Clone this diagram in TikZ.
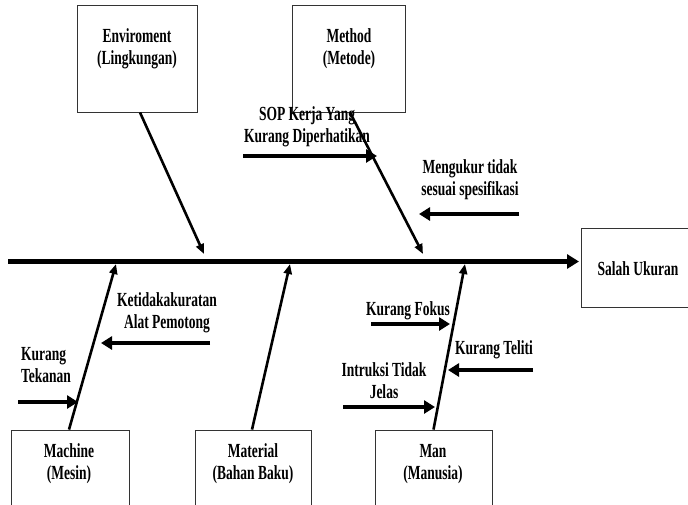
\documentclass[tikz,border=0pt]{standalone}
\usepackage{fontspec}
\setmainfont{Liberation Serif}[FakeStretch=0.675]
\usetikzlibrary{arrows.meta}
\begin{document}
\begin{tikzpicture}[x=1pt,y=-1pt,
  box/.style={draw=black!80,line width=0.9pt,fill=white,inner sep=0pt},
  lbl/.style={font=\fontsize{20}{22}\selectfont\bfseries,align=center,inner sep=0pt},
  bone/.style={line width=2.6pt,-{Triangle[length=10pt,width=8pt]}},
  cause/.style={line width=4.5pt,-{Triangle[length=11pt,width=13pt]}},
  spine/.style={line width=4.8pt,-{Triangle[length=12pt,width=14pt]}}]
\useasboundingbox (0,0) rectangle (688,504);
\clip (0,0) rectangle (688,504);

% category boxes
\node[box,minimum width=120pt,minimum height=107pt] (env) at (137,58.5) {};
\node[box,minimum width=113pt,minimum height=107pt] (met) at (348.5,58.5) {};
\node[box,minimum width=118pt,minimum height=100pt] (mac) at (70,480) {};
\node[box,minimum width=116pt,minimum height=100pt] (mat) at (253,480) {};
\node[box,minimum width=117pt,minimum height=100pt] (man) at (433.5,480) {};
\node[box,minimum width=120pt,minimum height=79pt] (res) at (641,267.5) {};

% box texts
\node[lbl] (envT) at (137,49) {Enviroment\\(Lingkungan)};
\node[lbl] (metT) at (349,49) {Method\\(Metode)};
\node[lbl] (macT) at (69,464) {Machine\\(Mesin)};
\node[lbl] (matT) at (253,464) {Material\\(Bahan Baku)};
\node[lbl] (manT) at (433,464) {Man\\(Manusia)};
\node[lbl] (resT) at (638,269) {Salah Ukuran};

% spine
\coordinate (head) at (8,261.5);
\coordinate (tail) at (579,261.5);
\draw[spine] (head) -- (tail);

% bones
\coordinate (envTip) at (204,254);
\coordinate (metTip) at (423,254);
\coordinate (macTip) at (116,264);
\coordinate (matTip) at (290,264);
\coordinate (manTip) at (465,264);
\draw[bone] ([xshift=3pt]env.south) -- (envTip);
\draw[bone] ([xshift=1.5pt]met.south) -- (metTip);
\draw[bone] ([xshift=-1pt]mac.north) -- (macTip);
\draw[bone] ([xshift=-1pt]mat.north) -- (matTip);
\draw[bone] (man.north) -- (manTip);

% causes
\node[lbl] (c1) at (307,127) {SOP Kerja Yang\\Kurang Diperhatikan};
\coordinate (c1a) at (243,156); \coordinate (c1b) at (377,156);
\draw[cause] (c1a) -- (c1b);

\node[lbl] (c2) at (470,180) {Mengukur tidak\\sesuai spesifikasi};
\coordinate (c2a) at (519,214); \coordinate (c2b) at (419,214);
\draw[cause] (c2a) -- (c2b);

\node[lbl] (c3) at (167,313) {Ketidakakuratan\\Alat Pemotong};
\coordinate (c3a) at (210,343); \coordinate (c3b) at (101,343);
\draw[cause] (c3a) -- (c3b);

\node[lbl,align=left,anchor=west] (c4) at (21,365) {Kurang\\Tekanan};
\coordinate (c4a) at (18,402); \coordinate (c4b) at (78,402);
\draw[cause] (c4a) -- (c4b);

\node[lbl] (c5) at (408,311) {Kurang Fokus};
\coordinate (c5a) at (371,324); \coordinate (c5b) at (450,324);
\draw[cause] (c5a) -- (c5b);

\node[lbl] (c6) at (494,350) {Kurang Teliti};
\coordinate (c6a) at (533,370); \coordinate (c6b) at (448,370);
\draw[cause] (c6a) -- (c6b);

\node[lbl] (c7) at (384,381) {Intruksi Tidak\\Jelas};
\coordinate (c7a) at (343,407); \coordinate (c7b) at (435,407);
\draw[cause] (c7a) -- (c7b);
\end{tikzpicture}
\end{document}
